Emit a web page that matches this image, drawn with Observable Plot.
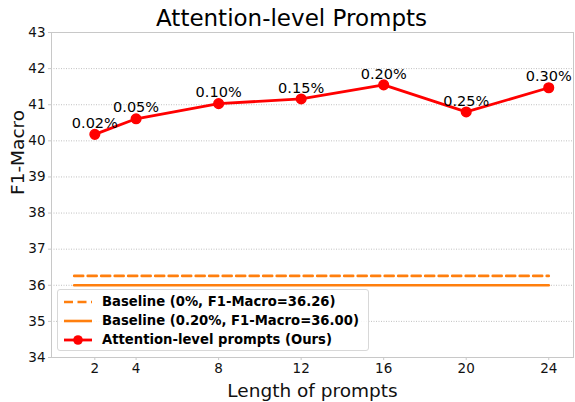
<!DOCTYPE html>
<html>
<head>
<meta charset="utf-8">
<script src="https://cdn.jsdelivr.net/npm/d3@7"></script>
<script src="https://cdn.jsdelivr.net/npm/@observablehq/plot@0.6"></script>
<style>
  html, body { margin: 0; padding: 0; background: #fff; }
  #wrap { position: relative; width: 575px; height: 402px; font-family: "DejaVu Sans", sans-serif; }
  #legend { position: absolute; left: 57px; top: 289px; width: 312px; height: 62px;
    border: 1px solid #d8d8d8; border-radius: 3px; background: rgba(255,255,255,0.85); box-sizing: border-box; }
  .row { position: absolute; left: 0; height: 19px; display: flex; align-items: center; }
  .row svg { margin-left: 5px; }
  .row span { margin-left: 9px; font-weight: bold; font-size: 13.2px; color: #000; white-space: nowrap; }
</style>
</head>
<body>
<div id="wrap"></div>
<script>
const promptLengths = [2, 4, 8, 12, 16, 20, 24];
const f1Macro = [40.18, 40.61, 41.03, 41.16, 41.55, 40.80, 41.47];
const paramPercent = ["0.02%", "0.05%", "0.10%", "0.15%", "0.20%", "0.25%", "0.30%"];
const baselineZero = 36.26;
const baselineSame = 36.00;
const baselineSpan = [1, 24];
const xTicks = [2, 4, 8, 12, 16, 20, 24];
const yTicks = [34, 35, 36, 37, 38, 39, 40, 41, 42, 43];
const legendLabels = [
  "Baseline (0%, F1-Macro=36.26)",
  "Baseline (0.20%, F1-Macro=36.00)",
  "Attention-level prompts (Ours)"
];

const ours = promptLengths.map((x, i) => ({x, y: f1Macro[i], label: paramPercent[i]}));
const baseA = baselineSpan.map(x => ({x, y: baselineZero}));
const baseB = baselineSpan.map(x => ({x, y: baselineSame}));

const red = "#ff0000";
const orange = "#ff7f0e";

const chart = Plot.plot({
  width: 575,
  height: 402,
  marginTop: 32,
  marginBottom: 45,
  marginLeft: 51,
  marginRight: 2,
  style: {fontFamily: "DejaVu Sans, sans-serif", background: "white", overflow: "visible"},
  x: {domain: [-0.1, 25.2], ticks: xTicks, label: null},
  y: {domain: [34, 43], ticks: yTicks, label: null},
  marks: [
    Plot.gridY(yTicks, {stroke: "#b0b0b0", strokeOpacity: 1, strokeWidth: 0.8, strokeDasharray: "1,1.5"}),
    Plot.frame({stroke: "#c8c8c8", strokeWidth: 1}),
    Plot.axisX(xTicks, {tickSize: 3, tickPadding: 3, fontSize: 13.5, stroke: "#c8c8c8", fill: "#111"}),
    Plot.axisY(yTicks, {tickSize: 3, tickPadding: 3, fontSize: 13.5, stroke: "#c8c8c8", fill: "#111"}),
    Plot.line(baseA, {x: "x", y: "y", stroke: orange, strokeWidth: 2.6, strokeDasharray: "9,4.5"}),
    Plot.line(baseB, {x: "x", y: "y", stroke: orange, strokeWidth: 2.6}),
    Plot.line(ours, {x: "x", y: "y", stroke: red, strokeWidth: 2.8}),
    Plot.dot(ours, {x: "x", y: "y", r: 4.8, fill: red, stroke: red}),
    Plot.text(ours, {x: "x", y: "y", text: "label", dy: -11, fontSize: 14.5, fill: "#000"}),
    Plot.text(["Attention-level Prompts"], {frameAnchor: "top", dx: -21, dy: -14, fontSize: 23, fill: "#000", lineAnchor: "middle"}),
    Plot.text(["Length of prompts"], {frameAnchor: "bottom", dy: 34, fontSize: 18.5, fill: "#111", lineAnchor: "middle"}),
    Plot.text(["F1-Macro"], {frameAnchor: "left", dx: -33, rotate: -90, fontSize: 18.5, fill: "#111", lineAnchor: "middle"})
  ]
});

const wrap = document.getElementById("wrap");
wrap.appendChild(chart);

const legend = document.createElement("div");
legend.id = "legend";
const swatches = [
  `<svg width="30" height="10"><line x1="1" x2="29" y1="5" y2="5" stroke="${orange}" stroke-width="2.6" stroke-dasharray="9,4.5"/></svg>`,
  `<svg width="30" height="10"><line x1="1" x2="29" y1="5" y2="5" stroke="${orange}" stroke-width="2.6"/></svg>`,
  `<svg width="30" height="12"><line x1="1" x2="29" y1="6" y2="6" stroke="${red}" stroke-width="2.8"/><circle cx="15" cy="6" r="4.8" fill="${red}"/></svg>`
];
legendLabels.forEach((t, i) => {
  const row = document.createElement("div");
  row.className = "row";
  row.style.top = (2 + i * 19) + "px";
  row.innerHTML = swatches[i] + `<span>${t}</span>`;
  legend.appendChild(row);
});
wrap.appendChild(legend);
</script>
</body>
</html>
